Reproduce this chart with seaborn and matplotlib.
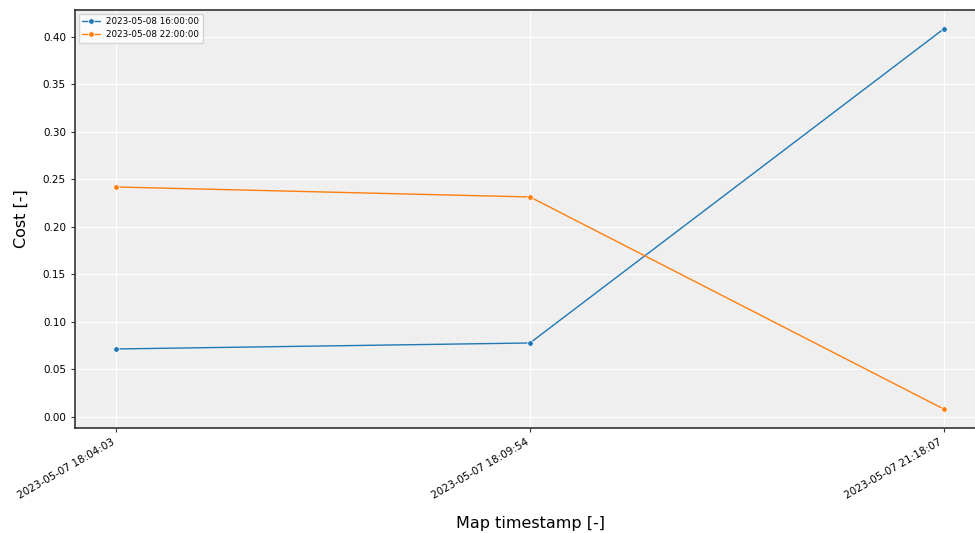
import matplotlib
matplotlib.use("Agg")
import matplotlib.pyplot as plt
import seaborn as sns
import pandas as pd

map_timestamps = ["2023-05-07 18:04:03", "2023-05-07 18:09:54", "2023-05-07 21:18:07"]
forecast_times = ["2023-05-08 16:00:00", "2023-05-08 22:00:00"]
cost_16 = [0.0716, 0.0779, 0.4084]
cost_22 = [0.2421, 0.2316, 0.0084]

df = pd.DataFrame({
    "map": map_timestamps * 2,
    "cost": cost_16 + cost_22,
    "forecast": [forecast_times[0]] * 3 + [forecast_times[1]] * 3,
})

sns.set_style("darkgrid", {"axes.facecolor": "#efefef", "grid.color": "white",
                           "axes.edgecolor": "#333333", "text.color": "black",
                           "xtick.color": "black", "ytick.color": "black",
                           "axes.labelcolor": "black"})

fig = plt.figure(figsize=(9.75, 5.33), dpi=100)
ax = fig.add_axes([75 / 975, 1 - 428 / 533, 910 / 975, 418 / 533])

sns.lineplot(data=df, x="map", y="cost", hue="forecast", marker="o",
             markersize=4, linewidth=1, markeredgecolor="white",
             markeredgewidth=0.5, ax=ax)

for side in ["left", "bottom", "top", "right"]:
    ax.spines[side].set_visible(True)
    ax.spines[side].set_color("#333333")
    ax.spines[side].set_linewidth(1.2)

ax.tick_params(axis="both", labelsize=7.5, length=3, color="#333333",
               labelcolor="black", left=True, bottom=True)
plt.setp(ax.get_xticklabels(), rotation=30, ha="right")
ax.set_xlabel("Map timestamp [-]", fontsize=11.5, labelpad=11)
ax.set_ylabel("Cost [-]", fontsize=11.5, labelpad=10)
ax.set_xlim(-0.1, 2.1)
ax.set_ylim(-0.0116, 0.4284)

leg = ax.legend(loc="upper left", fontsize=6.3, title=None, frameon=True,
                facecolor="white", edgecolor="#cccccc", borderaxespad=0.4)
for t in leg.get_texts():
    t.set_color("black")

fig.savefig("out.png", dpi=100)
